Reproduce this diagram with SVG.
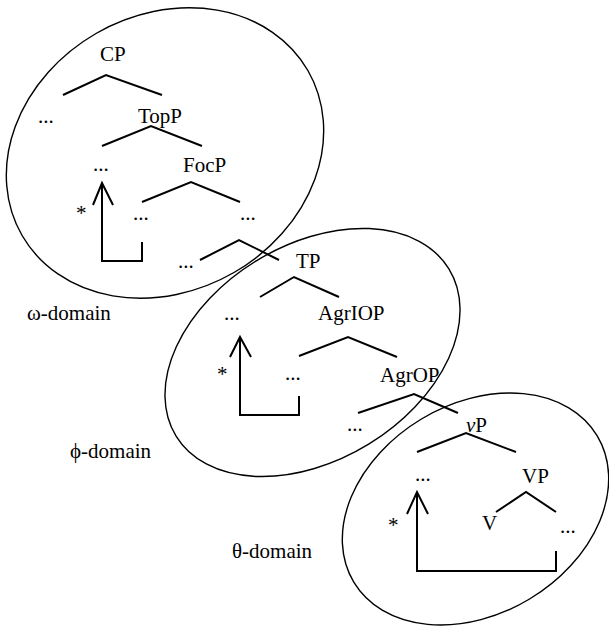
<svg xmlns="http://www.w3.org/2000/svg" width="609" height="626" viewBox="0 0 609 626">
<style>
text{font-family:"Liberation Serif","Times New Roman",serif;font-size:21px;fill:#000}
.dom{fill:none;stroke:#000;stroke-width:1.4}
.br{fill:none;stroke:#000;stroke-width:2;stroke-linejoin:miter}
.ast{font-size:21px}
</style>
<rect width="609" height="626" fill="#fff"/>
<g id="domains">
<ellipse id="omega-ellipse" class="dom" cx="165" cy="153" rx="165" ry="138" transform="rotate(-30 165 153)"/>
<ellipse id="phi-ellipse" class="dom" cx="312.5" cy="352.5" rx="160" ry="107.5" transform="rotate(-31.5 312.5 352.5)"/>
<ellipse id="theta-ellipse" class="dom" cx="475.5" cy="509" rx="142" ry="105" transform="rotate(-31 475.5 509)"/>
</g>
<g id="connectors">
<polyline class="br" points="63,95 106,75 162,95"/>
<polyline class="br" points="102,146 151,126 202,146"/>
<polyline class="br" points="142,202 191,182 240,202"/>
<polyline class="br" points="200,260 239,240 279,260"/>
<polyline class="br" points="260,297 294,277 339,297"/>
<polyline class="br" points="299,356 348,337 397,357"/>
<polyline class="br" points="358,413 414,394 458,413"/>
<polyline class="br" points="417,452 466,433 516,452"/>
<polyline class="br" points="496,512 526,492 556,512"/>
<polyline class="br" points="142,242 142,261 102,261 102,183"/>
<polyline class="br" points="93,205 102,183 113,205"/>
<polyline class="br" points="299,396 299,415 240,415 240,337"/>
<polyline class="br" points="230,357 240,337 251,357"/>
<polyline class="br" points="556,551 556,571 417,571 417,492"/>
<polyline class="br" points="407,514 417,492 428,514"/>
</g>
<g id="CP"><text x="100" y="61">CP</text></g>
<g id="cp-spec"><text x="38" y="123">...</text></g>
<g id="TopP"><text x="138" y="123">TopP</text></g>
<g id="topp-spec"><text x="93" y="171">...</text></g>
<g id="FocP"><text x="183" y="172">FocP</text></g>
<g id="focp-spec"><text x="133" y="220">...</text></g>
<g id="focp-comp"><text x="240" y="220">...</text></g>
<g id="star1"><text class="ast" x="76" y="220">*</text></g>
<g id="low-spec"><text x="178" y="268">...</text></g>
<g id="TP"><text x="296" y="268">TP</text></g>
<g id="tp-spec"><text x="224" y="320">...</text></g>
<g id="AgrIOP"><text x="318" y="320">AgrIOP</text></g>
<g id="star2"><text class="ast" x="217" y="381">*</text></g>
<g id="agriop-spec"><text x="285" y="380">...</text></g>
<g id="AgrOP"><text x="380" y="382">AgrOP</text></g>
<g id="agrop-spec"><text x="347" y="431">...</text></g>
<g id="vP"><text x="466" y="432"><tspan font-style="italic">v</tspan>P</text></g>
<g id="vp-spec"><text x="415" y="481">...</text></g>
<g id="VP"><text x="522" y="483">VP</text></g>
<g id="star3"><text class="ast" x="388" y="532">*</text></g>
<g id="V"><text x="482" y="530">V</text></g>
<g id="vp-comp"><text x="560" y="533">...</text></g>
<g id="omega-domain"><text x="27" y="320">ω-domain</text></g>
<g id="phi-domain"><text x="70" y="458">ϕ-domain</text></g>
<g id="theta-domain"><text x="232" y="558">θ-domain</text></g>
</svg>
